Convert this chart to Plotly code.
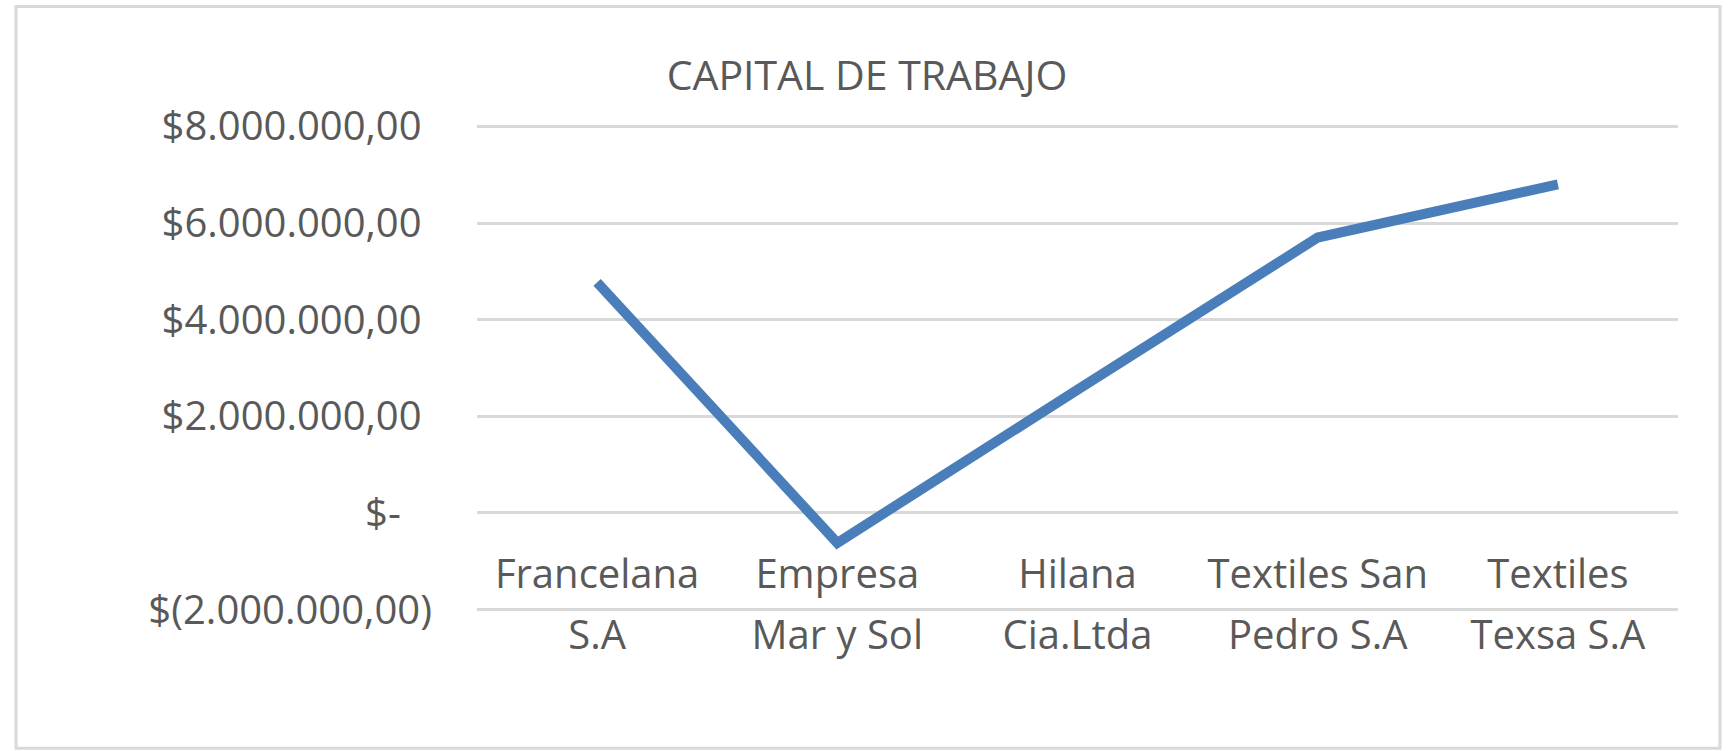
import plotly.graph_objects as go

# ---- data ----
categories = ["Francelana S.A", "Empresa Mar y Sol", "Hilana Cia.Ltda",
              "Textiles San Pedro S.A", "Textiles Texsa S.A"]
label_line1 = ["Francelana", "Empresa", "Hilana", "Textiles San", "Textiles"]
label_line2 = ["S.A", "Mar y Sol", "Cia.Ltda", "Pedro S.A", "Texsa S.A"]
capital_trabajo = [4770000, -620000, 2550000, 5700000, 6800000]

y_tickvals = [-2000000, 0, 2000000, 4000000, 6000000, 8000000]
y_ticktext = ["$(2.000.000,00)", "$-\u00a0\u00a0\u00a0", "$2.000.000,00\u00a0",
              "$4.000.000,00\u00a0", "$6.000.000,00\u00a0", "$8.000.000,00\u00a0"]
title_text = "CAPITAL DE TRABAJO"

# ---- style ----
W, H = 1729, 751
FONT = "Open Sans, Noto Sans, sans-serif"
TXT = "#595959"
GRID = "#d9d9d9"
LINE = "#4a7ebb"
FS = 40

# pixel geometry of the value band (-2M .. 8M)
y_top_px, y_bot_px = 126, 610
x_left_px, x_right_px = 477, 1678
ext = 50000  # small range extension so edge gridlines are drawn
ppv = (y_bot_px - y_top_px) / (y_tickvals[-1] - y_tickvals[0])
T = y_top_px - ext * ppv
Bm = H - (y_bot_px + ext * ppv)
L = x_left_px
R = W - x_right_px
y_range = [y_tickvals[0] - ext, y_tickvals[-1] + ext]

pw = W - L - R
ph = H - T - Bm


def px_x(p):
    return (p - L) / pw


def px_y(p):
    return (H - Bm - p) / ph


fig = go.Figure()
fig.add_trace(go.Scatter(
    x=categories, y=capital_trabajo, mode="lines",
    line=dict(color=LINE, width=10),
    xaxis="x", yaxis="y", showlegend=False, hoverinfo="x+y"))
# invisible companion trace so the second label row axis is drawn
fig.add_trace(go.Scatter(
    x=categories, y=capital_trabajo, mode="lines",
    line=dict(color="rgba(0,0,0,0)", width=0),
    xaxis="x2", yaxis="y", showlegend=False, hoverinfo="skip"))

zero_pos = (0 - y_range[0]) / (y_range[1] - y_range[0])

common_x = dict(
    type="category", categoryorder="array", categoryarray=categories,
    range=[-0.5, len(categories) - 0.5], showgrid=False, zeroline=False,
    showline=False, ticks="", tickvals=categories,
    tickfont=dict(family=FONT, size=FS, color=TXT),
    anchor="free", position=zero_pos, side="bottom", fixedrange=True,
)

fig.update_layout(
    width=W, height=H,
    margin=dict(l=L, r=R, t=T, b=Bm, autoexpand=False),
    paper_bgcolor="white", plot_bgcolor="white",
    title=dict(text=title_text, x=867 / W, xanchor="center",
               y=1 - 76 / H, yanchor="middle", xref="container", yref="container",
               font=dict(family=FONT, size=41, color=TXT)),
    xaxis=dict(**common_x, ticktext=label_line1, ticklabelstandoff=34),
    xaxis2=dict(**common_x, ticktext=label_line2, ticklabelstandoff=95,
                overlaying="x", matches="x"),
    yaxis=dict(range=y_range, tickvals=y_tickvals,
               ticktext=y_ticktext, showgrid=True, gridcolor=GRID, gridwidth=2.5,
               zeroline=False, showline=False, ticks="", ticklabelstandoff=44,
               tickfont=dict(family=FONT, size=FS, color=TXT), fixedrange=True),
    shapes=[dict(type="rect", xref="paper", yref="paper",
                 x0=px_x(16), x1=px_x(1720), y0=px_y(749), y1=px_y(6),
                 line=dict(color=GRID, width=3), layer="below")],
    showlegend=False,
)

fig.write_html(
    "out.html",
    config={"displayModeBar": False},
    post_script="document.body.style.margin='0';document.body.style.overflow='hidden';",
)
